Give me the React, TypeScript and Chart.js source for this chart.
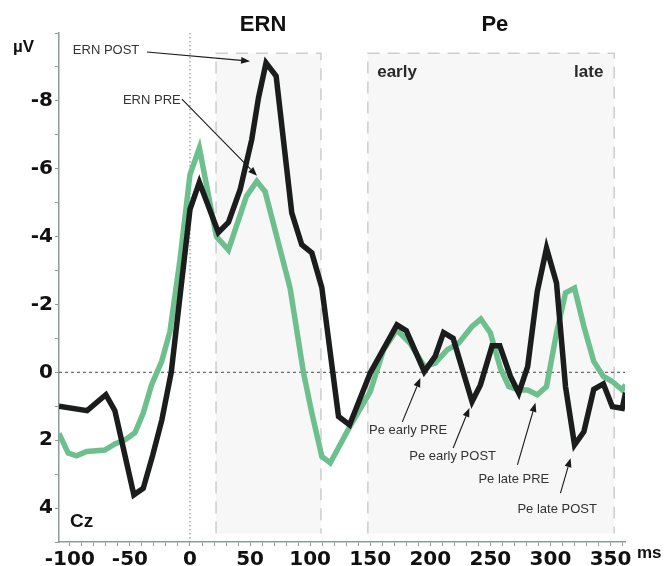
import React, { useEffect, useRef } from "react";
import { Chart, registerables } from "chart.js";

Chart.register(...registerables);

// ---- data (ms, µV; negative plotted upward) ----
const postMs = [-109, -85.6, -70, -62.5, -46.7, -38.9, -31, -23.4, -15.6, -7.8, 0, 7.8, 23.6, 32, 41.7, 51.4, 57, 63.3, 71.7, 84.7, 93, 101.4, 109.7, 123.6, 132.8, 150, 172.2, 180, 195, 204, 211, 219, 234.7, 241.7, 251.4, 257.8, 266.7, 273.6, 281, 289, 296.7, 305, 312.5, 320, 327.8, 336, 344, 351.4, 359.7, 362.5];
const postUv = [1.0, 1.13, 0.66, 1.13, 3.61, 3.42, 2.44, 1.4, 0.0, -2.4, -4.8, -5.6, -4.12, -4.42, -5.38, -6.86, -8.09, -9.12, -8.73, -4.7, -3.76, -3.52, -2.5, 1.3, 1.55, 0.02, -1.4, -1.23, -0.02, -0.47, -1.17, -1.0, 0.86, 0.37, -0.78, -0.78, 0.12, 0.61, -0.17, -2.38, -3.66, -2.63, 0.42, 2.14, 1.75, 0.5, 0.34, 1.01, 1.06, 0.6];

const preMs = [-109, -101.4, -94.4, -86, -70.8, -62.5, -54, -45.8, -38.9, -32, -23.6, -16.7, -8.3, 0, 7.8, 22, 32, 47, 55.6, 62.5, 83.3, 94.4, 101.4, 109.7, 116.7, 133, 150, 161, 172, 183, 195, 204, 214, 223.6, 234.7, 242, 250, 258.3, 265.3, 273.6, 281, 289, 296.7, 305, 312.5, 320, 327.8, 336, 344, 351.4, 359.7, 362.5];
const preUv = [1.8, 2.38, 2.46, 2.33, 2.29, 2.11, 1.99, 1.78, 1.2, 0.37, -0.32, -1.2, -3.32, -5.83, -6.61, -4.0, -3.61, -5.19, -5.63, -5.33, -2.48, 0, 1.2, 2.48, 2.67, 1.6, 0.57, -0.66, -1.25, -0.86, -0.17, -0.27, -0.66, -0.86, -1.35, -1.57, -1.16, -0.12, 0.42, 0.52, 0.52, 0.66, 0.42, -1.16, -2.34, -2.48, -1.35, -0.32, 0.12, 0.27, 0.52, 0.37];

const xMin = -109;
const xMax = 362;
const yMin = -10;
const yMax = 5;
const xTickValues = Array.from({ length: 47 }, (_, i) => -100 + i * 10);
const yTickValues = Array.from({ length: 16 }, (_, i) => -10 + i);

// windows (ms) and their top / bottom (µV)
const windowStart = [21.7, 148];
const windowEnd = [109, 353];
const windowTop = -9.4;
const windowBottom = 4.75;

// window headings
const headingText = ["ERN", "Pe"];
const headingMs = [60.8, 253.7];
const subText = ["early", "late"];
const subMs = [155.8, 344];
const subAlign = ["left", "right"];

// annotations: text anchor + arrow from / to
const noteText = ["ERN POST", "ERN PRE", "Pe early PRE", "Pe early POST", "Pe late PRE", "Pe late POST"];
const noteMs = [-97.5, -55.8, 149, 182.5, 240, 272.5];
const noteUv = [-9.38, -7.91, 1.83, 2.58, 3.26, 4.15];
const arrowFromMs = [-35.8, -6.7, 176.7, 219, 272.5, 308.3];
const arrowFromUv = [-9.44, -8.05, 1.46, 2.23, 2.73, 3.56];
const arrowToMs = [50, 55.8, 191.7, 232.5, 287.5, 316.7];
const arrowToUv = [-9.17, -5.79, 0.17, 1.05, 0.9, 2.53];

const AXIS_COLOR = "#8c9c96";

const decorPlugin = {
  id: "decor",
  beforeDatasetsDraw(chart: any) {
    const { ctx, chartArea, scales } = chart;
    const xs = scales.x;
    const ys = scales.y;
    ctx.save();
    for (let i = 0; i < windowStart.length; i++) {
      const x1 = xs.getPixelForValue(windowStart[i]);
      const x2 = xs.getPixelForValue(windowEnd[i]);
      const y1 = ys.getPixelForValue(windowTop);
      const y2 = ys.getPixelForValue(windowBottom);
      ctx.fillStyle = "#f7f7f7";
      ctx.fillRect(x1, y1, x2 - x1, y2 - y1);
      ctx.strokeStyle = "#cdcdcd";
      ctx.lineWidth = 1.5;
      ctx.setLineDash([12, 8]);
      ctx.beginPath();
      ctx.moveTo(x1, y2);
      ctx.lineTo(x1, y1);
      ctx.lineTo(x2, y1);
      ctx.lineTo(x2, y2);
      ctx.stroke();
    }
    const x0 = xs.getPixelForValue(0);
    const y0 = ys.getPixelForValue(0);
    ctx.strokeStyle = "#777";
    ctx.lineWidth = 1;
    ctx.setLineDash([1.5, 2.5]);
    ctx.beginPath();
    ctx.moveTo(x0, chartArea.top);
    ctx.lineTo(x0, chartArea.bottom);
    ctx.stroke();
    ctx.strokeStyle = "#666";
    ctx.lineWidth = 1.2;
    ctx.setLineDash([3, 3]);
    ctx.beginPath();
    ctx.moveTo(chartArea.left, y0);
    ctx.lineTo(chartArea.right, y0);
    ctx.stroke();
    ctx.restore();
  },
  afterDraw(chart: any) {
    const { ctx, chartArea, scales } = chart;
    const xs = scales.x;
    const ys = scales.y;
    ctx.save();
    ctx.setLineDash([]);
    for (let i = 0; i < noteText.length; i++) {
      const ax = xs.getPixelForValue(arrowFromMs[i]);
      const ay = ys.getPixelForValue(arrowFromUv[i]);
      const bx = xs.getPixelForValue(arrowToMs[i]);
      const by = ys.getPixelForValue(arrowToUv[i]);
      const ang = Math.atan2(by - ay, bx - ax);
      const hl = 9;
      const hw = 3.5;
      const baseX = bx - hl * Math.cos(ang);
      const baseY = by - hl * Math.sin(ang);
      ctx.strokeStyle = "#1a1a1a";
      ctx.lineWidth = 1.1;
      ctx.beginPath();
      ctx.moveTo(ax, ay);
      ctx.lineTo(baseX, baseY);
      ctx.stroke();
      ctx.fillStyle = "#1a1a1a";
      ctx.beginPath();
      ctx.moveTo(bx, by);
      ctx.lineTo(baseX + hw * Math.sin(ang), baseY - hw * Math.cos(ang));
      ctx.lineTo(baseX - hw * Math.sin(ang), baseY + hw * Math.cos(ang));
      ctx.closePath();
      ctx.fill();
      ctx.fillStyle = "#333";
      ctx.font = "13px 'Liberation Sans', Arial, sans-serif";
      ctx.textAlign = "left";
      ctx.textBaseline = "alphabetic";
      ctx.fillText(noteText[i], xs.getPixelForValue(noteMs[i]), ys.getPixelForValue(noteUv[i]));
    }
    ctx.fillStyle = "#111";
    ctx.font = "bold 22px 'Liberation Sans', Arial, sans-serif";
    ctx.textAlign = "center";
    for (let i = 0; i < headingText.length; i++) {
      ctx.fillText(headingText[i], xs.getPixelForValue(headingMs[i]), 31);
    }
    ctx.fillStyle = "#2a2a2a";
    ctx.font = "bold 17px 'Liberation Sans', Arial, sans-serif";
    for (let i = 0; i < subText.length; i++) {
      ctx.textAlign = subAlign[i] as CanvasTextAlign;
      ctx.fillText(subText[i], xs.getPixelForValue(subMs[i]), ys.getPixelForValue(-8.7));
    }
    ctx.fillStyle = "#111";
    ctx.textAlign = "left";
    ctx.font = "bold 17px 'Liberation Sans', Arial, sans-serif";
    ctx.fillText("µV", 13, 52);
    ctx.font = "bold 17px 'Liberation Sans', Arial, sans-serif";
    ctx.fillText("ms", chartArea.right + 12, 558);
    ctx.font = "bold 19px 'Liberation Sans', Arial, sans-serif";
    ctx.fillText("Cz", 70, 527);
    ctx.restore();
  },
};

export default function App() {
  const canvasRef = useRef<HTMLCanvasElement | null>(null);

  useEffect(() => {
    if (!canvasRef.current) return;
    const tickFont = { family: "'DejaVu Sans', sans-serif", size: 20, weight: "bold" as const };
    const chart = new Chart(canvasRef.current, {
      type: "line",
      data: {
        datasets: [
          {
            label: "POST",
            data: postMs.map((x, i) => ({ x, y: postUv[i] })),
            borderColor: "#1b1d1c",
            borderWidth: 5.5,
            pointRadius: 0,
            tension: 0,
            fill: false,
          },
          {
            label: "PRE",
            data: preMs.map((x, i) => ({ x, y: preUv[i] })),
            borderColor: "#6dbf8d",
            borderWidth: 5.5,
            pointRadius: 0,
            tension: 0,
            fill: false,
          },
        ],
      },
      options: {
        animation: false,
        responsive: false,
        devicePixelRatio: 1,
        layout: { padding: { top: 33, right: 40, left: 0, bottom: 0 } },
        plugins: { legend: { display: false }, tooltip: { enabled: false } },
        scales: {
          x: {
            type: "linear",
            min: xMin,
            max: xMax,
            afterBuildTicks: (scale: any) => {
              scale.ticks = xTickValues.map((v) => ({ value: v }));
            },
            afterFit: (scale: any) => {
              scale.height = 24;
            },
            grid: { drawOnChartArea: false, drawTicks: true, tickLength: 4, color: AXIS_COLOR, lineWidth: 1 },
            border: { display: true, color: AXIS_COLOR, width: 1.5 },
            ticks: {
              autoSkip: false,
              maxRotation: 0,
              padding: 2,
              color: "#111",
              font: tickFont,
              callback: (v: any) => (Number(v) % 50 === 0 ? String(v) : ""),
            },
          },
          y: {
            type: "linear",
            reverse: true,
            min: yMin,
            max: yMax,
            afterBuildTicks: (scale: any) => {
              scale.ticks = yTickValues.map((v) => ({ value: v }));
            },
            afterFit: (scale: any) => {
              scale.width = 59;
            },
            grid: { drawOnChartArea: false, drawTicks: true, tickLength: 4, color: AXIS_COLOR, lineWidth: 1 },
            border: { display: true, color: AXIS_COLOR, width: 1.5 },
            ticks: {
              autoSkip: false,
              padding: 2,
              color: "#111",
              font: tickFont,
              callback: (v: any) => {
                const n = Number(v);
                return n % 2 === 0 && n !== -10 ? String(n) : "";
              },
            },
          },
        },
      },
      plugins: [decorPlugin],
    });
    return () => chart.destroy();
  }, []);

  return (
    <div style={{ position: "absolute", left: 0, top: 0, width: 665, height: 566, background: "#fff" }}>
      <canvas ref={canvasRef} width={665} height={566} style={{ width: 665, height: 566, display: "block" }} />
    </div>
  );
}
